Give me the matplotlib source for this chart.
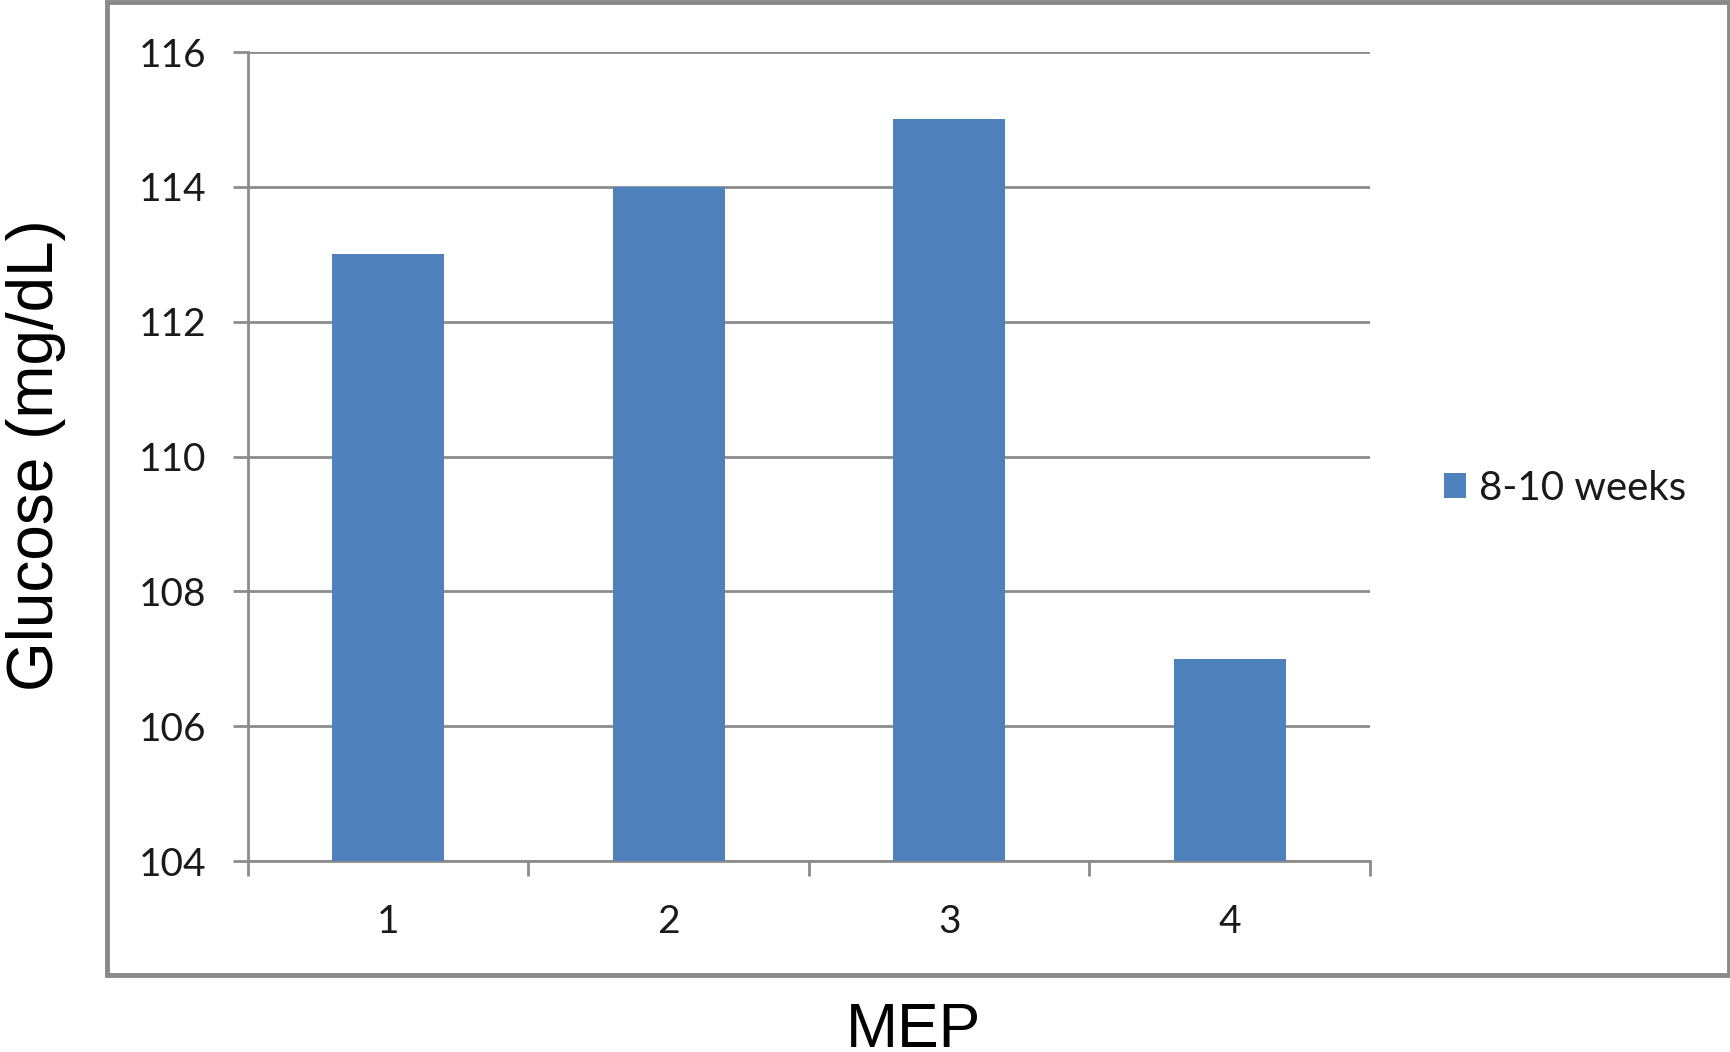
import matplotlib
matplotlib.use("Agg")
import matplotlib.pyplot as plt
from matplotlib.patches import Rectangle
import numpy as np

# Data
categories = ["1", "2", "3", "4"]
glucose = [113, 114, 115, 107]
series_name = "8-10 weeks"
y_ticks = [104, 106, 108, 110, 112, 114, 116]

BAR_COLOR = "#4F81BD"
GRID_COLOR = "#8C8C8C"
FRAME_COLOR = "#898989"

W, H = 1731, 1052
fig = plt.figure(figsize=(W / 100, H / 100), dpi=100)
fig.patch.set_facecolor("white")

ax = fig.add_axes([248 / W, 1 - 861 / H, (1370 - 248) / W, (861 - 52) / H])

x = np.arange(len(categories))
ax.bar(x, glucose, width=0.4, color=BAR_COLOR, zorder=3)

ax.set_xlim(-0.5, len(categories) - 0.5)
ax.set_ylim(y_ticks[0], y_ticks[-1])
ax.set_yticks(y_ticks)
ax.set_yticklabels([str(t) for t in y_ticks])
ax.yaxis.grid(True, color=GRID_COLOR, linewidth=2, zorder=1)
ax.set_axisbelow(True)

# category labels at centres, boundary ticks between categories
ax.set_xticks(x)
ax.set_xticklabels(categories)
ax.set_xticks(np.arange(len(categories) + 1) - 0.5, minor=True)
ax.tick_params(axis="x", which="major", length=0, pad=31, labelsize=28)
ax.tick_params(axis="x", which="minor", length=11, width=2, color=GRID_COLOR, direction="out")
ax.tick_params(axis="y", which="major", length=11, width=2, color=GRID_COLOR,
               direction="out", pad=19, labelsize=28)
for lbl in ax.get_xticklabels() + ax.get_yticklabels():
    lbl.set_fontfamily("Lato")
    lbl.set_color("#1a1a1a")

for side in ["top", "right"]:
    ax.spines[side].set_visible(False)
for side in ["left", "bottom"]:
    ax.spines[side].set_color(GRID_COLOR)
    ax.spines[side].set_linewidth(2)

# chart frame
frame = Rectangle((107 / W, 1 - 975 / H), (1729 - 107) / W, (975 - 2) / H,
                  transform=fig.transFigure, fill=False, edgecolor=FRAME_COLOR,
                  linewidth=3.5, zorder=0)
fig.patches.append(frame)

# legend
handle = Rectangle((0, 0), 1, 1, facecolor=BAR_COLOR, edgecolor="none")
leg = fig.legend([handle], [series_name], loc="center left",
                 bbox_to_anchor=(1444 / W, 1 - 488 / H), frameon=False,
                 prop={"family": "Lato", "size": 29},
                 handlelength=0.55, handleheight=0.6, handletextpad=0.33,
                 borderaxespad=0, borderpad=0)
for t in leg.get_texts():
    t.set_color("#1a1a1a")

# axis titles
fig.text(36 / W, 1 - 455 / H, "Glucose (mg/dL)", rotation=90, ha="center", va="center",
         fontsize=46, family="Liberation Sans", color="black")
fig.text(914 / W, 1 - 1047 / H, "MEP", ha="center", va="baseline",
         fontsize=45, family="Liberation Sans", color="black")

fig.savefig("out.png", dpi=100, facecolor="white")
